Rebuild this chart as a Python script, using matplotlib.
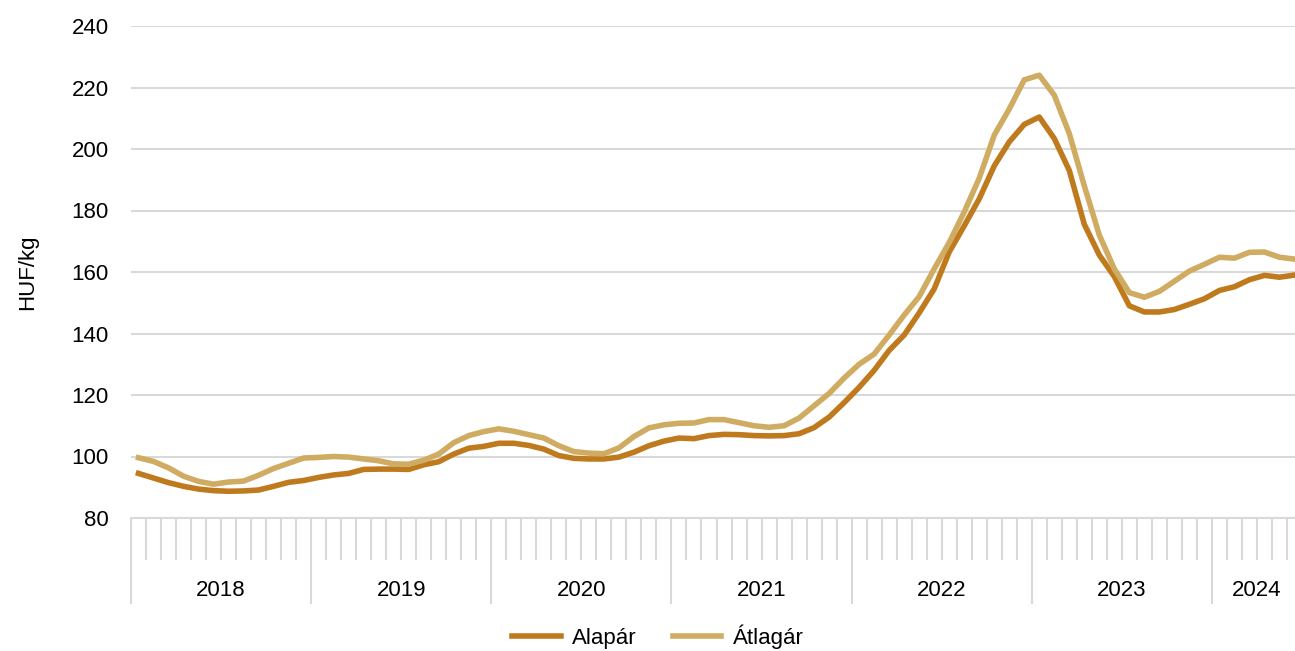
import matplotlib.pyplot as plt
from matplotlib.transforms import blended_transform_factory

plt.rcParams['font.family'] = ['Liberation Sans', 'DejaVu Sans']

years = ['2018', '2019', '2020', '2021', '2022', '2023', '2024']
months_per_year = [12, 12, 12, 12, 12, 12, 6]

# monthly prices, Jan 2018 - Jun 2024
alapar = [94.5, 93.0, 91.5, 90.3, 89.4, 88.9, 88.7, 88.8, 89.1, 90.3, 91.6, 92.2,
          93.2, 94.0, 94.5, 95.8, 95.9, 95.9, 95.8, 97.3, 98.3, 100.8, 102.7, 103.3,
          104.3, 104.3, 103.6, 102.4, 100.3, 99.4, 99.2, 99.2, 99.8, 101.4, 103.5, 105.0,
          106.0, 105.8, 106.8, 107.2, 107.1, 106.8, 106.7, 106.8, 107.4, 109.4, 112.8, 117.5,
          122.5, 128.0, 134.5, 139.5, 146.7, 154.5, 166.5, 175.0, 183.8, 194.5, 202.3, 208.0,
          210.4, 203.4, 193.0, 175.5, 165.5, 158.5, 149.0, 147.0, 147.0, 147.8, 149.5, 151.3,
          154.0, 155.2, 157.5, 158.9, 158.3, 159.0]
atlagar = [99.6, 98.4, 96.3, 93.6, 91.9, 91.0, 91.7, 92.0, 93.9, 96.1, 97.8, 99.5,
           99.7, 100.0, 99.8, 99.2, 98.6, 97.6, 97.5, 98.8, 100.8, 104.5, 106.8, 108.1,
           109.0, 108.2, 107.1, 106.0, 103.5, 101.6, 101.1, 100.9, 102.8, 106.5, 109.3, 110.3,
           110.8, 110.9, 112.0, 112.0, 111.0, 110.0, 109.5, 110.0, 112.5, 116.5, 120.5, 125.5,
           130.0, 133.3, 139.5, 146.0, 152.0, 161.0, 169.6, 179.5, 190.5, 204.5, 213.0, 222.5,
           224.0, 217.5, 205.0, 188.0, 172.0, 161.0, 153.3, 151.8, 153.7, 157.0, 160.3, 162.5,
           164.8, 164.5, 166.4, 166.5, 164.8, 164.2]

dark = '#BF7A1E'
light = '#CFAC62'
grid = '#D9D9D9'
fs = 16

fig = plt.figure(figsize=(12.95, 6.51), dpi=100)
ax = fig.add_axes([131 / 1295, 1 - 518 / 651, 1171 / 1295, (518 - 26) / 651])

x = list(range(len(alapar)))
ax.plot(x, alapar, color=dark, lw=4, label='Alapár', solid_joinstyle='round')
ax.plot(x, atlagar, color=light, lw=4, label='Átlagár', solid_joinstyle='round')

ax.set_ylim(80, 240)
ax.set_yticks(range(80, 241, 20))
ax.set_xlim(-0.5, sum(months_per_year) - 0.5)
ax.grid(axis='y', color=grid, lw=1.5)
ax.set_axisbelow(True)
for s in ['top', 'right', 'left']:
    ax.spines[s].set_visible(False)
ax.spines['bottom'].set_color(grid)
ax.spines['bottom'].set_linewidth(1.5)
ax.tick_params(axis='y', length=0, pad=16, labelsize=fs)
ax.set_ylabel('HUF/kg', fontsize=fs, labelpad=24)

# month / year separators below the axis
year_starts = [0]
for n in months_per_year:
    year_starts.append(year_starts[-1] + n)
month_edges = [i - 0.5 for i in range(sum(months_per_year) + 1) if i not in year_starts]
ax.set_xticks([i - 0.5 for i in year_starts[:-1]])
ax.set_xticklabels([])
ax.set_xticks(month_edges, minor=True)
ax.tick_params(axis='x', which='major', length=62, width=1.5, color=grid)
ax.tick_params(axis='x', which='minor', length=30, width=1.5, color=grid)

tr = blended_transform_factory(ax.transData, fig.transFigure)
for yr, s, n in zip(years, year_starts, months_per_year):
    ax.text(s - 0.5 + n / 2, 1 - 590 / 651, yr, transform=tr, ha='center', va='center',
            fontsize=fs)

fig.legend(loc='center', bbox_to_anchor=(0.508, 1 - 637 / 651), ncol=2, frameon=False,
           fontsize=fs, handlelength=2.2, columnspacing=1.6, handletextpad=0.5)

fig.savefig('out.png', dpi=100)
